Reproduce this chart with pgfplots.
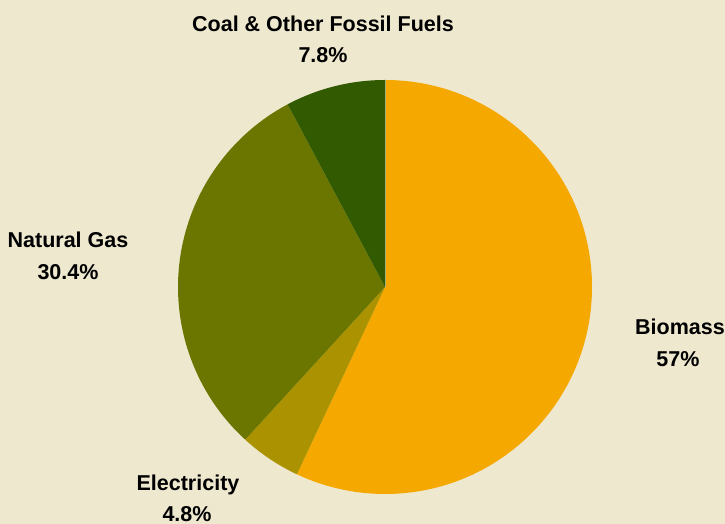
\documentclass[border=0pt]{standalone}
\usepackage{pgfplots}
\pgfplotsset{compat=1.18}
\usepackage{fontspec}
\setmainfont{Liberation Sans}

\definecolor{bg}{HTML}{EEE8CF}
\definecolor{cbio}{HTML}{F5A800}
\definecolor{celec}{HTML}{AA9200}
\definecolor{cgas}{HTML}{6B7600}
\definecolor{ccoal}{HTML}{325A00}

% shares in percent, clockwise from 12 o'clock
\def\vBio{57}
\def\vElec{4.8}
\def\vGas{30.4}
\def\vCoal{7.8}

\pgfmathsetmacro\aA{90}
\pgfmathsetmacro\aB{\aA-\vBio*3.6}
\pgfmathsetmacro\aC{\aB-\vElec*3.6}
\pgfmathsetmacro\aD{\aC-\vGas*3.6}
\pgfmathsetmacro\aE{\aD-\vCoal*3.6}

\begin{document}
\begin{tikzpicture}
\begin{axis}[
    x=1pt, y=1pt,
    xmin=0, xmax=725, ymin=0, ymax=524,
    hide axis,
    clip=false,
]
    \fill[bg] (axis cs:0,0) rectangle (axis cs:725,524);
    \coordinate (bl) at (axis cs:0,0);
    \coordinate (tr) at (axis cs:725,524);

    \fill[cbio]  (axis cs:385,237) -- ++(\aA:207pt) arc[start angle=\aA, end angle=\aB, radius=207pt] -- cycle;
    \fill[celec] (axis cs:385,237) -- ++(\aB:207pt) arc[start angle=\aB, end angle=\aC, radius=207pt] -- cycle;
    \fill[cgas]  (axis cs:385,237) -- ++(\aC:207pt) arc[start angle=\aC, end angle=\aD, radius=207pt] -- cycle;
    \fill[ccoal] (axis cs:385,237) -- ++(\aD:207pt) arc[start angle=\aD, end angle=\aE, radius=207pt] -- cycle;
    \draw[bg!60!ccoal, line width=0.6pt] (axis cs:385,237) -- ++(90:207pt);

    \begin{scope}[every node/.style={anchor=base, inner sep=0pt,
        font=\fontsize{21.5}{26}\selectfont\bfseries}]
    \node at (axis cs:323,492) {Coal \& Other Fossil Fuels};
    \node at (axis cs:323,461) {\vCoal\%};
    \node at (axis cs:68,276) {Natural Gas};
    \node at (axis cs:68,244) {\vGas\%};
    \node at (axis cs:680,189) {Biomass};
    \node at (axis cs:678,157) {\vBio\%};
    \node at (axis cs:188,33) {Electricity};
    \node at (axis cs:187,2) {\vElec\%};
    \end{scope}
\end{axis}
\pgfresetboundingbox
\path (bl) rectangle (tr);
\end{tikzpicture}
\end{document}
